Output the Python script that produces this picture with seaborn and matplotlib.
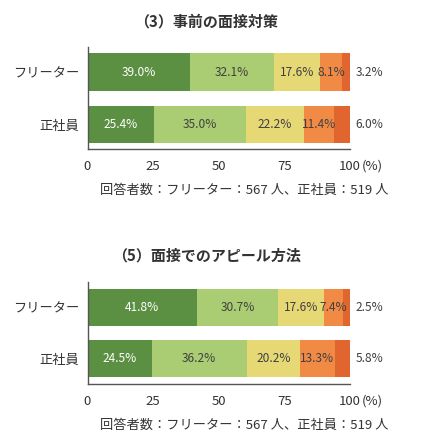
import matplotlib
matplotlib.use("Agg")
import matplotlib.pyplot as plt
import seaborn as sns
import pandas as pd
import numpy as np

sns.set_style("white")
plt.rcParams['font.family'] = ['Noto Sans CJK JP', 'DejaVu Sans']

categories = ['フリーター', '正社員']
segments = ['s1', 's2', 's3', 's4', 's5']
colors = ['#5b8f41', '#aacc72', '#e6d875', '#f08a45', '#e0652e']

title3 = '（3）事前の面接対策'
freeter3 = [39.0, 32.1, 17.6, 8.1, 3.2]
seishain3 = [25.4, 35.0, 22.2, 11.4, 6.0]

title5 = '（5）面接でのアピール方法'
freeter5 = [41.8, 30.7, 17.6, 7.4, 2.5]
seishain5 = [24.5, 36.2, 20.2, 13.3, 5.8]

ticks = [0, 25, 50, 75, 100]
tick_labels = ['0', '25', '50', '75', '100']
note = '回答者数：フリーター：567 人、正社員：519 人'

fig = plt.figure(figsize=(4.22, 4.43), dpi=100)

def panel(rect, title, rows, ylim, title_y, note_y):
    ax = fig.add_axes(rect)
    vals = np.array(rows)
    cums = np.cumsum(vals, axis=1)
    for i in reversed(range(len(segments))):
        df = pd.DataFrame({'cat': categories, 'val': cums[:, i]})
        sns.barplot(data=df, x='val', y='cat', orient='h', color=colors[i],
                    saturation=1, width=0.72, ax=ax, errorbar=None, linewidth=0)
    ax.set_xlim(0, 100)
    ax.set_ylim(*ylim)
    for r in range(len(categories)):
        for i in range(len(segments)):
            v = vals[r, i]
            label = f'{v:.1f}%'
            if i == len(segments) - 1:
                ax.annotate(label, xy=(100, r), xytext=(4, 0), textcoords='offset points',
                            ha='left', va='center', fontsize=8.6, color='#404040')
            else:
                cx = cums[r, i] - v / 2
                ax.text(cx, r, label, ha='center', va='center', fontsize=8.6,
                        color='white' if i == 0 else '#404040')
    ax.set_xticks(ticks)
    ax.set_xticklabels(tick_labels)
    ax.tick_params(axis='both', length=0, labelsize=9.5, colors='#333333', pad=6)
    ax.tick_params(axis='x', pad=8)
    ax.set_xlabel('')
    ax.set_ylabel('')
    for s in ['top', 'right']:
        ax.spines[s].set_visible(False)
    for s in ['left', 'bottom']:
        ax.spines[s].set_color('#555555')
        ax.spines[s].set_linewidth(1.0)
    ax.annotate('(%)', xy=(100, 0), xycoords=('data', 'axes fraction'),
                xytext=(8.2, -7.6), textcoords='offset points', ha='left', va='top',
                fontsize=9.5, color='#333333')
    fig.text(206 / 422, title_y, title, ha='center', va='center', fontsize=10.8,
             fontweight='bold', color='#333333')
    fig.text(100 / 422, note_y, note, ha='left', va='center', fontsize=9.5, color='#333333')
    return ax

panel([87.5 / 422, 1 - 149 / 443, 262.5 / 422, 102 / 443], title3,
      [freeter3, seishain3], (1.47, -0.48), 1 - 21 / 443, 1 - 190 / 443)
panel([87.5 / 422, 1 - 384 / 443, 262.5 / 422, 102 / 443], title5,
      [freeter5, seishain5], (1.5, -0.5), 1 - 255 / 443, 1 - 425 / 443)

fig.savefig('out.png', dpi=100)
